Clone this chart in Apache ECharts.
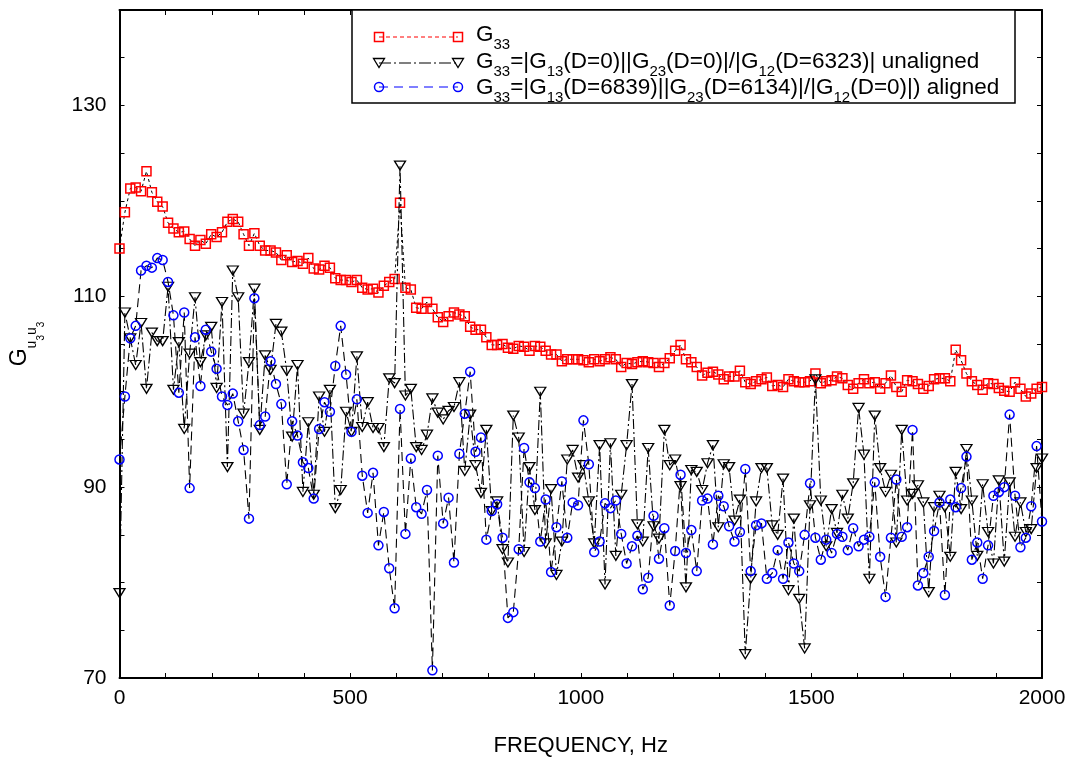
<!DOCTYPE html>
<html><head><meta charset="utf-8">
<script src="https://cdn.jsdelivr.net/npm/echarts@6/dist/echarts.min.js"></script>
<style>html,body{margin:0;padding:0;background:#fff}#c{width:1071px;height:762px}</style>
</head><body><div id="c"></div>
<script>
// frequency grid step (Hz) of the spectra
const FREQ_STEP = 2000 / 171;

// G33 (red squares)
const g33 = [115.0,118.8,121.3,121.4,121.0,123.1,120.9,119.9,119.4,117.7,117.1,116.7,116.8,116.0,115.3,115.9,115.5,116.5,116.2,116.7,
117.8,118.1,117.8,116.5,115.3,116.6,115.3,114.8,114.8,114.6,113.8,114.3,113.6,113.7,113.4,114.0,112.9,112.8,113.2,113.0,
111.9,111.7,111.7,111.5,111.7,110.9,110.7,110.8,110.4,111.1,111.5,111.8,119.8,110.9,110.7,108.8,108.7,109.4,108.7,107.8,
107.3,107.9,108.3,108.1,107.9,106.8,106.5,106.5,105.7,104.9,104.9,105.0,104.6,104.5,104.8,104.7,104.3,104.8,104.7,104.3,
103.9,103.9,103.2,103.4,103.4,103.4,103.3,103.1,103.4,103.2,103.4,103.6,103.4,102.6,103.0,102.9,103.1,103.2,103.1,103.0,
102.6,103.0,103.5,104.3,104.9,103.4,103.1,102.6,101.7,102.0,102.1,101.8,101.3,101.6,101.6,102.2,101.0,100.8,101.1,101.3,
101.5,100.6,100.7,100.5,101.3,101.1,101.0,101.0,101.1,101.9,100.9,101.1,101.2,101.6,101.4,100.7,100.3,100.9,101.3,100.9,
101.0,100.3,100.9,101.7,100.5,100.0,101.2,101.1,100.8,100.3,100.6,101.3,101.4,101.4,101.1,104.4,103.3,101.9,101.1,100.7,
100.2,100.9,100.8,100.4,100.1,100.0,101.0,100.3,99.5,99.8,100.3,100.5];

// unaligned estimate (black triangles)
const unaligned = [78.9,108.3,105.6,102.8,107.2,100.3,106.2,105.3,105.3,111.0,100.2,105.2,96.1,104.0,109.9,103.1,105.9,106.8,100.4,109.4,
92.1,112.7,109.9,97.7,103.1,110.8,96.0,103.8,102.3,107.1,106.3,102.2,95.3,102.8,89.5,96.8,89.2,99.5,95.8,100.2,
87.8,89.7,97.9,95.8,103.7,96.3,98.9,96.2,96.2,94.2,101.4,100.9,123.7,99.6,100.3,94.2,93.9,95.5,99.3,97.8,
97.1,98.0,98.4,101.0,91.7,97.6,92.3,89.4,96.0,87.5,88.5,83.5,82.1,97.5,95.2,83.2,92.1,87.6,100.0,84.1,
89.8,80.8,84.3,92.9,93.9,91.0,92.3,88.5,84.1,94.4,79.8,94.6,82.8,89.2,94.4,100.8,86.1,84.3,94.1,85.9,
84.6,96.0,92.3,92.9,90.1,79.5,91.8,91.6,89.7,92.5,94.4,85.8,92.4,92.1,86.5,88.7,72.5,80.4,88.5,92.0,
92.0,86.0,85.0,90.9,79.2,86.7,78.3,73.1,88.1,101.3,88.6,83.8,87.7,85.2,89.2,86.7,90.4,98.3,93.4,80.4,
97.5,92.0,89.5,91.3,84.2,96.0,88.6,89.3,90.2,88.4,79.0,87.9,89.1,87.9,82.7,91.6,87.7,94.0,88.6,82.8,
90.3,85.3,82.0,90.7,82.2,90.5,84.8,88.4,85.3,85.6,92.0,93.0];

// aligned estimate (blue circles)
const aligned = [92.9,99.5,105.6,106.9,112.7,113.2,113.0,114.0,113.8,111.5,108.0,99.9,108.3,89.9,105.7,100.6,106.5,104.2,102.4,99.5,
98.6,99.8,96.9,93.9,86.7,109.8,96.5,97.4,103.2,100.8,98.7,90.3,96.9,95.4,92.6,92.0,88.8,96.1,98.9,97.9,
102.7,106.9,101.8,95.8,99.2,91.2,87.3,91.5,83.9,87.4,81.5,77.3,98.2,85.1,93.0,87.9,87.2,89.7,70.8,93.3,
86.2,88.9,82.1,93.5,97.7,102.1,93.7,95.2,84.5,87.5,88.2,84.7,76.3,76.9,83.5,94.1,90.5,89.9,84.3,88.7,
81.1,85.8,90.6,84.7,88.4,88.1,97.0,92.4,83.2,84.3,88.3,87.8,88.6,85.1,82.0,83.8,84.9,79.3,80.5,87.0,
82.5,85.7,77.6,83.3,91.3,83.1,85.5,81.2,88.6,88.8,84.0,89.1,88.0,85.9,84.3,85.3,91.9,81.2,86.0,86.2,
80.4,81.0,83.4,80.4,84.2,82.0,81.2,85.0,90.4,84.7,82.4,84.5,83.1,85.1,84.8,83.4,85.7,83.8,84.5,84.8,
90.5,82.7,78.5,84.7,90.8,84.8,85.8,96.0,79.7,81.0,82.7,85.4,88.4,78.7,88.7,87.9,89.9,93.2,82.4,84.2,
80.4,83.9,89.1,89.5,90.0,97.6,89.1,83.7,84.7,88.0,94.3,86.4];

const xTickLabels = [0, 500, 1000, 1500, 2000];
const yTickLabels = [70, 90, 110, 130];
const seriesNames = ['G33', 'G33 unaligned', 'G33 aligned'];

const FONT = 'Liberation Sans, Arial, sans-serif';
function pairs(arr) { return arr.map((v, i) => [i * FREQ_STEP, v]); }

const axisLineStyle = { show: true, onZero: false, lineStyle: { color: '#000', width: 2 } };
const tickStyle = { show: true, inside: true, length: 5, lineStyle: { color: '#000', width: 1 } };

const legendRich = {
  m: { fontSize: 22.5, fontFamily: FONT, fill: '#000', lineHeight: 34 },
  s: { fontSize: 15, fontFamily: FONT, fill: '#000', verticalAlign: 'bottom', height: 14 }
};
const legendTexts = [
  '{m|G}{s|33}',
  '{m|G}{s|33}{m|=|G}{s|13}{m|(D=0)||G}{s|23}{m|(D=0)|/|G}{s|12}{m|(D=6323)| unaligned}',
  '{m|G}{s|33}{m|=|G}{s|13}{m|(D=6839)||G}{s|23}{m|(D=6134)|/|G}{s|12}{m|(D=0)|) aligned}'
];
const LX1 = 379, LX2 = 458, TX = 476;
const rowY = [37, 63, 87];
const textY = [35, 61.5, 88];

function tri(x, y, color) {
  return { type: 'polygon', z: 12, shape: { points: [[x - 5.5, y - 4.5], [x + 5.5, y - 4.5], [x, y + 4.5]] },
    style: { fill: 'rgba(0,0,0,0)', stroke: color, lineWidth: 1.3 } };
}
function sq(x, y, color) {
  return { type: 'rect', z: 12, shape: { x: x - 4.5, y: y - 4.5, width: 9, height: 9 },
    style: { fill: 'rgba(0,0,0,0)', stroke: color, lineWidth: 1.5 } };
}
function circ(x, y, color) {
  return { type: 'circle', z: 12, shape: { cx: x, cy: y, r: 4.5 },
    style: { fill: 'rgba(0,0,0,0)', stroke: color, lineWidth: 1.5 } };
}

const graphic = [
  { type: 'rect', z: 10, shape: { x: 352, y: 10, width: 663, height: 93 }, style: { fill: '#fff', stroke: '#000', lineWidth: 1.5 } },
  { type: 'line', z: 11, shape: { x1: LX1, y1: rowY[0], x2: LX2, y2: rowY[0] }, style: { stroke: '#ff0000', lineWidth: 1.2, lineDash: [4, 3] } },
  sq(LX1, rowY[0], '#ff0000'), sq(LX2, rowY[0], '#ff0000'),
  { type: 'line', z: 11, shape: { x1: LX1, y1: rowY[1], x2: LX2, y2: rowY[1] }, style: { stroke: '#000', lineWidth: 1.2, lineDash: [12, 3, 2, 3] } },
  tri(LX1, rowY[1], '#000'), tri(LX2, rowY[1], '#000'),
  { type: 'line', z: 11, shape: { x1: LX1, y1: rowY[2], x2: LX2, y2: rowY[2] }, style: { stroke: '#0000ff', lineWidth: 1.2, lineDash: [9, 6] } },
  circ(LX1, rowY[2], '#0000ff'), circ(LX2, rowY[2], '#0000ff')
];
legendTexts.forEach((t, i) => {
  graphic.push({ type: 'text', z: 12, x: TX, y: textY[i],
    style: { text: t, rich: legendRich, verticalAlign: 'middle', align: 'left', fontSize: 22.5, fontFamily: FONT, fill: '#000' } });
});

const option = {
  animation: false,
  backgroundColor: '#fff',
  textStyle: { fontFamily: FONT, color: '#000' },
  grid: { left: 118, right: 29, top: 10, bottom: 84, containLabel: false },
  xAxis: [
    { type: 'value', min: 0, max: 2000, interval: 100, position: 'bottom',
      axisLine: axisLineStyle, axisTick: tickStyle, splitLine: { show: false },
      axisLabel: { fontSize: 21, color: '#000', margin: 10, fontFamily: FONT,
        formatter: v => xTickLabels.includes(v) ? String(v) : '' },
      name: 'FREQUENCY, Hz', nameLocation: 'middle', nameGap: 57,
      nameTextStyle: { fontSize: 22, color: '#000', fontFamily: FONT } },
    { type: 'value', min: 0, max: 2000, interval: 100, position: 'top',
      axisLine: axisLineStyle, axisTick: tickStyle, splitLine: { show: false }, axisLabel: { show: false } }
  ],
  yAxis: [
    { type: 'value', min: 70, max: 140, interval: 5, position: 'left',
      axisLine: axisLineStyle, axisTick: tickStyle, splitLine: { show: false },
      axisLabel: { fontSize: 21, color: '#000', margin: 13, fontFamily: FONT,
        formatter: v => yTickLabels.includes(v) ? String(v) : '' },
      name: '{g|G}{u|u}{t|3}{u|u}{t|3}', nameLocation: 'middle', nameGap: 78,
      nameTextStyle: { color: '#000', rich: {
        g: { fontSize: 23, fontFamily: FONT, color: '#000', lineHeight: 44 },
        u: { fontSize: 14, fontFamily: FONT, color: '#000', verticalAlign: 'bottom', height: 18 },
        t: { fontSize: 10, fontFamily: FONT, color: '#000', verticalAlign: 'bottom', height: 1 }
      } } },
    { type: 'value', min: 70, max: 140, interval: 5, position: 'right',
      axisLine: axisLineStyle, axisTick: tickStyle, splitLine: { show: false }, axisLabel: { show: false } }
  ],
  series: [
    { name: seriesNames[0], type: 'line', data: pairs(g33), z: 3,
      symbol: 'rect', symbolSize: 9,
      itemStyle: { color: 'rgba(0,0,0,0)', borderColor: '#ff0000', borderWidth: 1.5 },
      lineStyle: { color: '#000', width: 1, type: [3, 3] }, emphasis: { disabled: true } },
    { name: seriesNames[1], type: 'line', data: pairs(unaligned), z: 4,
      symbol: 'triangle', symbolRotate: 180, symbolSize: [11, 9],
      itemStyle: { color: 'rgba(0,0,0,0)', borderColor: '#000', borderWidth: 1.3 },
      lineStyle: { color: '#000', width: 1.1, type: [10, 3, 2, 3] }, emphasis: { disabled: true } },
    { name: seriesNames[2], type: 'line', data: pairs(aligned), z: 5,
      symbol: 'circle', symbolSize: 9,
      itemStyle: { color: 'rgba(0,0,0,0)', borderColor: '#0000ff', borderWidth: 1.5 },
      lineStyle: { color: '#000', width: 1.1, type: [9, 5] }, emphasis: { disabled: true } }
  ],
  graphic: graphic
};

const chart = echarts.init(document.getElementById('c'), null, { renderer: 'canvas' });
chart.setOption(option);
</script></body></html>
